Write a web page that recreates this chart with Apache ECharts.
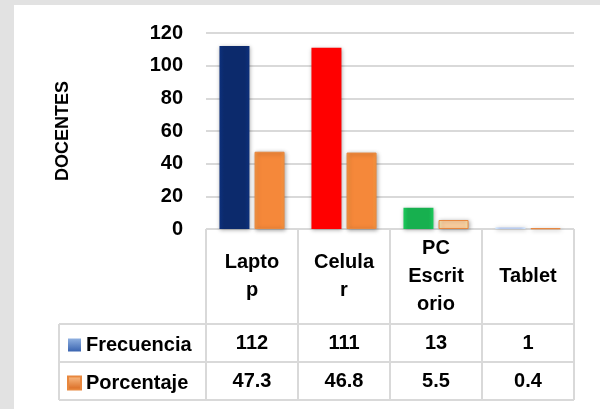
<!DOCTYPE html>
<html>
<head>
<meta charset="utf-8">
<script src="https://cdn.jsdelivr.net/npm/echarts@6/dist/echarts.min.js"></script>
<style>
  html, body { margin: 0; padding: 0; background: #e2e2e2; }
  #chart { width: 600px; height: 409px; }
</style>
</head>
<body>
<div id="chart"></div>
<script>
// data
const categories = ['Lapto\np', 'Celula\nr', 'PC\nEscrit\norio', 'Tablet'];
const frecuencia = [112, 111, 13, 1];
const porcentaje = [47.3, 46.8, 5.5, 0.4];
const yTicks = { min: 0, max: 120, interval: 20 };

const frecColors = ['#0c2a6c', '#ff0000', '#17b04f', '#b9cbee'];
const porcColors = ['#f5883a', '#f5883a', '#fbcf9f', '#f3cbbd'];

const FONT = 'Liberation Sans';
const plotLeft = 206, plotRight = 574, plotTop = 33, plotBottom = 229;
const headerBottom = 324, row1Bottom = 362, row2Bottom = 400, legendLeft = 59;

function shade(c) {
  return {
    type: 'linear', x: 0, y: 0, x2: 1, y2: 0,
    colorStops: [
      { offset: 0, color: echarts.color.lift(c, -0.15) },
      { offset: 0.15, color: c },
      { offset: 0.85, color: c },
      { offset: 1, color: echarts.color.lift(c, -0.15) }
    ]
  };
}

const chart = echarts.init(document.getElementById('chart'));

const lineStyle = { stroke: '#d9d9d9', lineWidth: 2 };
const tableLines = [];
const colW = (plotRight - plotLeft) / categories.length;
for (let i = 0; i <= categories.length; i++) {
  const x = plotLeft + colW * i;
  tableLines.push({ type: 'line', shape: { x1: x, y1: plotBottom, x2: x, y2: row2Bottom }, style: lineStyle });
}
tableLines.push({ type: 'line', shape: { x1: plotLeft, y1: plotBottom, x2: plotRight, y2: plotBottom }, style: lineStyle });
[headerBottom, row1Bottom, row2Bottom].forEach(y => {
  tableLines.push({ type: 'line', shape: { x1: legendLeft, y1: y, x2: plotRight, y2: y }, style: lineStyle });
});
tableLines.push({ type: 'line', shape: { x1: legendLeft, y1: headerBottom, x2: legendLeft, y2: row2Bottom }, style: lineStyle });

const labelBase = { color: '#000', fontFamily: FONT, fontWeight: 'bold', fontSize: 20 };

chart.setOption({
  backgroundColor: '#e2e2e2',
  animation: false,
  graphic: [
    { type: 'rect', z: -10, shape: { x: 14, y: 5, width: 586, height: 404 }, style: { fill: '#fff' } }
  ].concat(tableLines),
  grid: { left: plotLeft, right: 600 - plotRight, top: plotTop, bottom: 409 - plotBottom },
  legend: {
    orient: 'vertical',
    left: 62,
    top: 330,
    icon: 'rect',
    itemWidth: 13,
    itemHeight: 13,
    itemGap: 18,
    textStyle: Object.assign({}, labelBase, { lineHeight: 20 }),
    data: [
      { name: 'Frecuencia', itemStyle: { color: { type: 'linear', x: 0, y: 0, x2: 0, y2: 1, colorStops: [{ offset: 0, color: '#8fb0e0' }, { offset: 1, color: '#3a64b0' }] } } },
      { name: 'Porcentaje', itemStyle: { color: { type: 'linear', x: 0, y: 0, x2: 0, y2: 1, colorStops: [{ offset: 0, color: '#fbc08a' }, { offset: 1, color: '#d8661c' }] } } }
    ]
  },
  xAxis: [
    {
      type: 'category',
      data: categories,
      axisLine: { show: false },
      axisTick: { show: false },
      axisLabel: Object.assign({}, labelBase, { interval: 0, margin: 47, lineHeight: 28, verticalAlign: 'middle' })
    },
    {
      type: 'category',
      position: 'bottom',
      offset: headerBottom - plotBottom,
      data: frecuencia.map(String),
      axisLine: { show: false },
      axisTick: { show: false },
      axisLabel: Object.assign({}, labelBase, { interval: 0, margin: 19, verticalAlign: 'middle' })
    },
    {
      type: 'category',
      position: 'bottom',
      offset: row1Bottom - plotBottom,
      data: porcentaje.map(v => v.toFixed(1)),
      axisLine: { show: false },
      axisTick: { show: false },
      axisLabel: Object.assign({}, labelBase, { interval: 0, margin: 19, verticalAlign: 'middle' })
    }
  ],
  yAxis: {
    type: 'value',
    min: yTicks.min,
    max: yTicks.max,
    interval: yTicks.interval,
    name: 'DOCENTES',
    nameLocation: 'middle',
    nameGap: 134,
    nameRotate: 90,
    nameTextStyle: { color: '#000', fontFamily: FONT, fontWeight: 'bold', fontSize: 18 },
    axisLine: { show: false },
    axisTick: { show: false },
    axisLabel: Object.assign({}, labelBase, { margin: 23 }),
    splitLine: { lineStyle: { color: '#d9d9d9', width: 2 } }
  },
  series: [
    {
      name: 'Frecuencia',
      type: 'bar',
      barWidth: 30,
      barGap: '17%',
      itemStyle: { color: '#4f81bd', shadowBlur: 4, shadowColor: 'rgba(0,0,0,0.35)', shadowOffsetX: 1, shadowOffsetY: 1 },
      data: frecuencia.map((v, i) => ({ value: v, itemStyle: { color: shade(frecColors[i]) } }))
    },
    {
      name: 'Porcentaje',
      type: 'bar',
      barWidth: 30,
      itemStyle: { color: '#f79646', borderColor: '#e8873e', borderWidth: 1, shadowBlur: 4, shadowColor: 'rgba(0,0,0,0.35)', shadowOffsetX: 1, shadowOffsetY: 1 },
      data: porcentaje.map((v, i) => ({ value: v, itemStyle: { color: shade(porcColors[i]) } }))
    }
  ]
});
</script>
</body>
</html>
